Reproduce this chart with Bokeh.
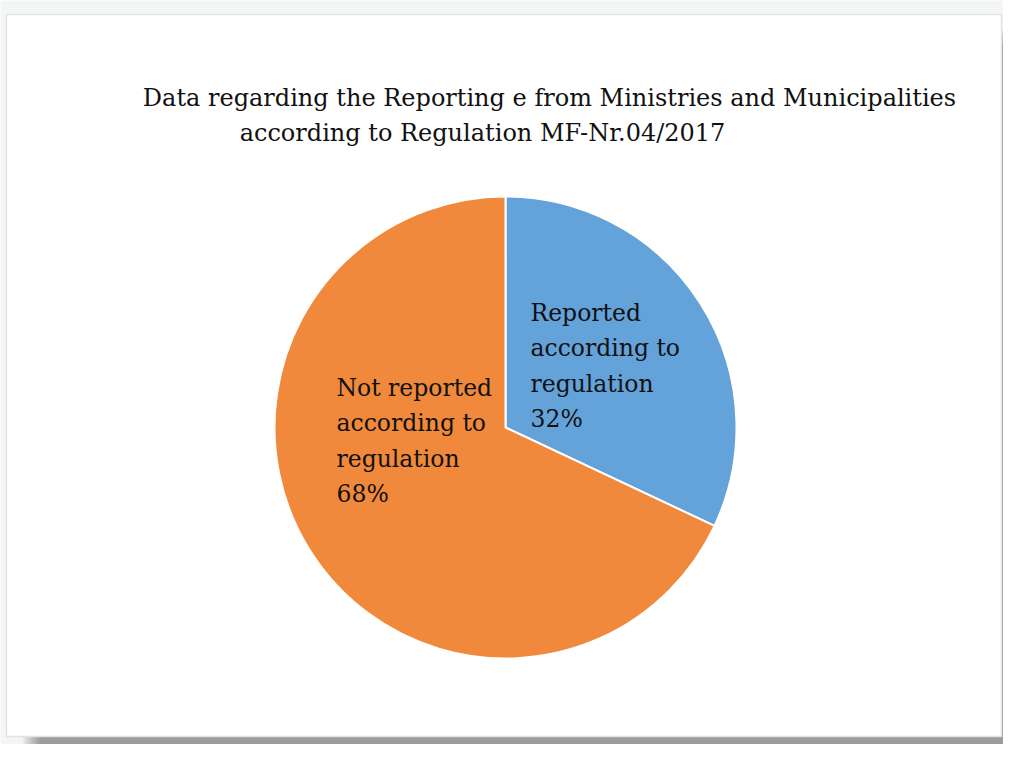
import math
from bokeh.plotting import figure
from bokeh.models import Range1d, ColumnDataSource
from bokeh.core.properties import value
from bokeh.embed import file_html
from bokeh.resources import INLINE

# ---- data ----
categories = ["Reported\naccording to\nregulation", "Not reported\naccording to\nregulation"]
percentages = [32, 68]
colors = ["#63A3DA", "#F0893B"]
title_lines = ["Data regarding the Reporting e from Ministries and Municipalities",
               "according to Regulation MF-Nr.04/2017"]

# ---- layout (figure pixel coordinates, y up) ----
W, H = 1003, 744
cx, cy, R = 505, 317, 231
label_anchor = [(530, 446), (336, 371)]
title_pos = [(549, 647), (482, 612)]
FONT = "DejaVu Serif"

p = figure(width=W, height=H, output_backend="svg", toolbar_location=None,
           x_range=Range1d(0, W), y_range=Range1d(0, H), min_border=0)
p.axis.visible = False
p.grid.visible = False
p.outline_line_color = None
p.background_fill_color = "#f4f6f6"
p.border_fill_color = "#f4f6f6"

# card shadow (soft, offset to bottom-right)
for i in range(12):
    d = i * 1.6
    p.quad(left=22 + d, right=W + 30 - d, bottom=-30 + d, top=716 - d,
           fill_color="black", fill_alpha=0.035, line_color=None)
# card
p.quad(left=6, right=1001, bottom=8, top=730, fill_color="white",
       line_color="#e2e4e4", line_width=1.5)

# pie
total = sum(percentages)
starts, ends = [], []
a = math.pi / 2
for v in percentages:
    sweep = v / total * 2 * math.pi
    starts.append(a - sweep)
    ends.append(a)
    a -= sweep
src = ColumnDataSource(dict(start=starts, end=ends, color=colors))
p.wedge(x=cx, y=cy, radius=R, start_angle="start", end_angle="end",
        fill_color="color", line_color="white", line_width=2, source=src)

# labels
labels = [f"{c}\n{v}%" for c, v in zip(categories, percentages)]
lsrc = ColumnDataSource(dict(x=[a[0] for a in label_anchor], y=[a[1] for a in label_anchor], t=labels))
p.text(x="x", y="y", text="t", source=lsrc, text_font=value(FONT), text_font_size="23.5px",
       text_color="#111111", text_align="left", text_baseline="top", text_line_height=1.27)

# title
p.text(x=[tp[0] for tp in title_pos], y=[tp[1] for tp in title_pos], text=title_lines,
       text_font=value(FONT), text_font_size="24px", text_color="#111111",
       text_align="center", text_baseline="middle")

open("out.html", "w").write(file_html(p, INLINE))
